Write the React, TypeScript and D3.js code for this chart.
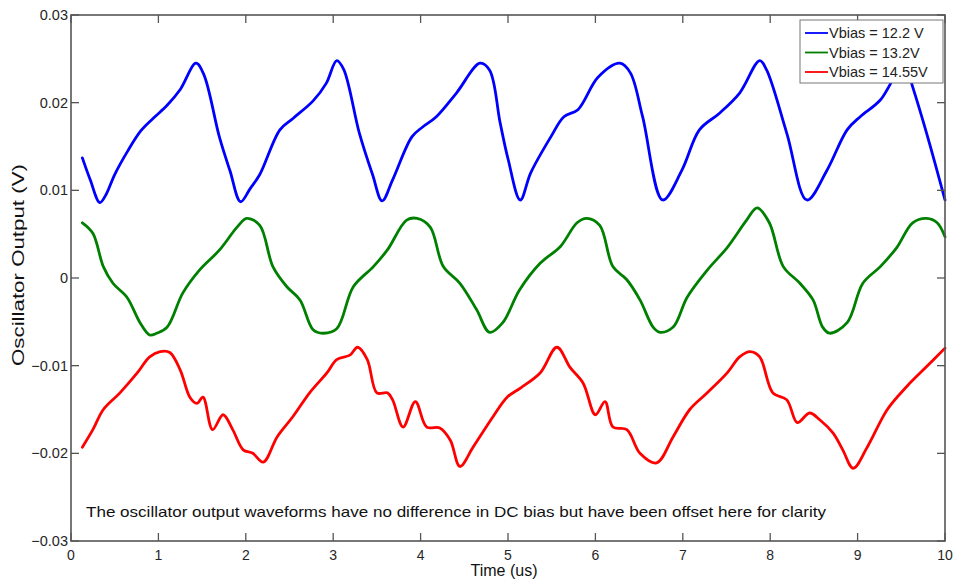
import { useEffect, useRef } from 'react';
import * as d3 from 'd3';

type Pt = [number, number];

// time (us), output (V)
const blueSeries: Pt[] = [
  [0.13, 0.0137], [0.22, 0.0112], [0.33, 0.0086], [0.4, 0.0095], [0.5, 0.0118], [0.65, 0.0145],
  [0.8, 0.0168], [0.95, 0.0183], [1.1, 0.0197], [1.25, 0.0215], [1.43, 0.0245], [1.52, 0.0232],
  [1.7, 0.016], [1.82, 0.0122], [1.94, 0.0087],
  [2.05, 0.0102], [2.16, 0.0118], [2.39, 0.0169], [2.54, 0.0182], [2.77, 0.0202], [2.92, 0.0222],
  [3.04, 0.0248], [3.12, 0.0238], [3.3, 0.0165], [3.45, 0.0118], [3.56, 0.0088],
  [3.68, 0.0112], [3.9, 0.0161], [4.02, 0.0172], [4.18, 0.0184], [4.41, 0.0211], [4.68, 0.0245],
  [4.79, 0.0237], [4.91, 0.0177], [5.0, 0.0136], [5.14, 0.0089],
  [5.26, 0.012], [5.49, 0.0161], [5.64, 0.0184], [5.8, 0.0192], [6.03, 0.0229], [6.28, 0.0245],
  [6.4, 0.0234], [6.54, 0.0184], [6.77, 0.0089],
  [6.99, 0.0123], [7.19, 0.0169], [7.42, 0.0188], [7.65, 0.0211], [7.88, 0.0248], [7.96, 0.0237],
  [8.19, 0.0165], [8.42, 0.0089],
  [8.65, 0.0123], [8.88, 0.0169], [9.03, 0.0184], [9.26, 0.0203], [9.54, 0.0245], [9.63, 0.0218],
  [9.79, 0.0165], [10.0, 0.0089],
];

const greenSeries: Pt[] = [
  [0.13, 0.0063], [0.25, 0.0051], [0.37, 0.0013], [0.48, -0.0006], [0.64, -0.0022], [0.79, -0.0051],
  [0.9, -0.0065], [0.98, -0.0063], [1.1, -0.0056], [1.28, -0.0017], [1.47, 0.0009], [1.7, 0.0032],
  [1.9, 0.0058], [2.01, 0.0068], [2.16, 0.006], [2.31, 0.0013], [2.47, -0.001], [2.62, -0.0025],
  [2.77, -0.0059], [2.88, -0.0063], [3.04, -0.0058], [3.23, -0.001], [3.46, 0.0013], [3.62, 0.0032],
  [3.84, 0.0066], [3.96, 0.0068], [4.11, 0.0058], [4.26, 0.0013], [4.45, -0.0006], [4.64, -0.0036],
  [4.79, -0.0062], [4.94, -0.0051], [5.13, -0.0014], [5.37, 0.0017], [5.6, 0.0036], [5.79, 0.0063],
  [5.9, 0.0068], [6.05, 0.006], [6.2, 0.0013], [6.36, -0.0002], [6.51, -0.0025], [6.66, -0.0056],
  [6.74, -0.0062], [6.89, -0.0056], [7.05, -0.0022], [7.28, 0.0009], [7.51, 0.0035], [7.73, 0.0066],
  [7.85, 0.008], [7.99, 0.0063], [8.15, 0.0013], [8.34, -0.0006], [8.49, -0.0025], [8.6, -0.0056],
  [8.68, -0.0063], [8.88, -0.0051], [9.06, -0.0006], [9.26, 0.0013], [9.45, 0.0035], [9.63, 0.0063],
  [9.79, 0.0068], [9.91, 0.0063], [10.0, 0.0047],
];

const redSeries: Pt[] = [
  [0.13, -0.0193], [0.25, -0.0173], [0.37, -0.015], [0.56, -0.0131], [0.76, -0.0108], [0.9, -0.009],
  [1.02, -0.0084], [1.13, -0.0085], [1.25, -0.0105], [1.36, -0.0136], [1.44, -0.0143], [1.51, -0.0136],
  [1.62, -0.0173], [1.74, -0.0156], [1.85, -0.0173], [1.97, -0.0196], [2.08, -0.02], [2.2, -0.021],
  [2.36, -0.0181], [2.54, -0.0158], [2.73, -0.0131], [2.93, -0.0108], [3.04, -0.0093], [3.19, -0.0088],
  [3.28, -0.0079], [3.39, -0.0093], [3.5, -0.0131], [3.62, -0.0131], [3.68, -0.0139], [3.8, -0.017],
  [3.94, -0.0141], [4.07, -0.017], [4.22, -0.0171], [4.34, -0.0185], [4.45, -0.0215], [4.6, -0.0193],
  [4.83, -0.0158], [4.99, -0.0136], [5.15, -0.0125], [5.37, -0.0108], [5.56, -0.0079], [5.71, -0.0102],
  [5.86, -0.012], [6.0, -0.0156], [6.11, -0.0141], [6.2, -0.017], [6.36, -0.0173], [6.51, -0.02],
  [6.7, -0.0211], [6.89, -0.0181], [7.08, -0.015], [7.28, -0.0131], [7.51, -0.0108], [7.65, -0.009],
  [7.77, -0.0084], [7.88, -0.009], [8.03, -0.0131], [8.19, -0.0139], [8.31, -0.0165], [8.45, -0.0154],
  [8.57, -0.0162], [8.72, -0.0177], [8.83, -0.0196], [8.95, -0.0217], [9.11, -0.0193], [9.34, -0.015],
  [9.56, -0.0124], [9.79, -0.0101], [10.0, -0.008],
];

const seriesLabels = ['Vbias = 12.2 V', 'Vbias = 13.2V', 'Vbias = 14.55V'];
const seriesColors = ['#0000ff', '#008000', '#ff0000'];
const xTicks = [0, 1, 2, 3, 4, 5, 6, 7, 8, 9, 10];
const yTicks = [-0.03, -0.02, -0.01, 0, 0.01, 0.02, 0.03];
const note = 'The oscillator output waveforms have no difference in DC bias but have been offset here for clarity';

const W = 956;
const H = 579;
const FONT = 'Arial, "Liberation Sans", Helvetica, sans-serif';

export default function App() {
  const svgRef = useRef<SVGSVGElement>(null);

  useEffect(() => {
    if (!svgRef.current) return;
    const svg = d3.select(svgRef.current);
    svg.selectAll('*').remove();

    const margin = { top: 15, right: 11, bottom: 38, left: 71 };
    const iw = W - margin.left - margin.right;
    const ih = H - margin.top - margin.bottom;

    const x = d3.scaleLinear().domain([0, 10]).range([0, iw]);
    const y = d3.scaleLinear().domain([-0.03, 0.03]).range([ih, 0]);

    svg.append('rect').attr('width', W).attr('height', H).attr('fill', '#fff');

    const g = svg.append('g').attr('transform', `translate(${margin.left},${margin.top})`);

    // traces
    const line = d3.line<Pt>()
      .x(d => x(d[0]))
      .y(d => y(d[1]))
      .curve(d3.curveCatmullRom.alpha(0.5));

    [blueSeries, greenSeries, redSeries].forEach((s, i) => {
      g.append('path')
        .datum(s)
        .attr('fill', 'none')
        .attr('stroke', seriesColors[i])
        .attr('stroke-width', 2.8)
        .attr('stroke-linejoin', 'round')
        .attr('stroke-linecap', 'round')
        .attr('d', line);
    });

    // inward ticks on all four sides, MATLAB box style
    const tickLen = 8;
    const axisColor = '#555';
    const ticks = g.append('g').attr('stroke', axisColor).attr('stroke-width', 1.3);
    xTicks.forEach(t => {
      ticks.append('line').attr('x1', x(t)).attr('x2', x(t)).attr('y1', ih).attr('y2', ih - tickLen);
      ticks.append('line').attr('x1', x(t)).attr('x2', x(t)).attr('y1', 0).attr('y2', tickLen);
    });
    yTicks.forEach(t => {
      ticks.append('line').attr('x1', 0).attr('x2', tickLen).attr('y1', y(t)).attr('y2', y(t));
      ticks.append('line').attr('x1', iw).attr('x2', iw - tickLen).attr('y1', y(t)).attr('y2', y(t));
    });

    g.append('rect')
      .attr('width', iw)
      .attr('height', ih)
      .attr('fill', 'none')
      .attr('stroke', axisColor)
      .attr('stroke-width', 1.6);

    // tick labels
    g.selectAll('.xl')
      .data(xTicks)
      .enter()
      .append('text')
      .attr('x', d => x(d))
      .attr('y', ih + 19)
      .attr('text-anchor', 'middle')
      .attr('fill', '#262626')
      .style('font-family', FONT)
      .style('font-size', '14px')
      .text(d => `${d}`);

    g.selectAll('.yl')
      .data(yTicks)
      .enter()
      .append('text')
      .attr('x', -3)
      .attr('y', d => y(d))
      .attr('dy', '0.35em')
      .attr('text-anchor', 'end')
      .attr('fill', '#262626')
      .style('font-family', FONT)
      .style('font-size', '14.5px')
      .text(d => (d === 0 ? '0' : d3.format('.2f')(d)));

    // axis titles
    svg.append('text')
      .attr('x', margin.left + x(5) - 4)
      .attr('y', 576)
      .attr('text-anchor', 'middle')
      .attr('fill', '#111')
      .style('font-family', FONT)
      .style('font-size', '16px')
      .text('Time (us)');

    svg.append('text')
      .attr('transform', `translate(24, 265) rotate(-90)`)
      .attr('text-anchor', 'middle')
      .attr('fill', '#111')
      .attr('textLength', 202)
      .attr('lengthAdjust', 'spacingAndGlyphs')
      .style('font-family', FONT)
      .style('font-size', '16.5px')
      .text('Oscillator Output (V)');

    // note inside the axes
    g.append('text')
      .attr('x', 15)
      .attr('y', 502)
      .attr('fill', '#111')
      .attr('textLength', 740)
      .attr('lengthAdjust', 'spacingAndGlyphs')
      .style('font-family', FONT)
      .style('font-size', '15px')
      .text(note);

    // legend
    const lg = g.append('g').attr('transform', `translate(${iw - 145}, 5)`);
    lg.append('rect')
      .attr('width', 143)
      .attr('height', 63)
      .attr('fill', '#fff')
      .attr('stroke', '#777')
      .attr('stroke-width', 1);
    seriesLabels.forEach((label, i) => {
      const row = lg.append('g').attr('transform', `translate(0, ${13 + i * 19.5})`);
      row.append('line')
        .attr('x1', 5)
        .attr('x2', 28)
        .attr('stroke', seriesColors[i])
        .attr('stroke-width', 1.8);
      row.append('text')
        .attr('x', 29)
        .attr('dy', '0.36em')
        .attr('fill', '#222')
        .style('font-family', FONT)
        .style('font-size', '14.5px')
        .text(label);
    });
  }, []);

  return (
    <div style={{ position: 'absolute', left: 0, top: 0 }}>
      <svg ref={svgRef} width={W} height={H} style={{ display: 'block' }} />
    </div>
  );
}
